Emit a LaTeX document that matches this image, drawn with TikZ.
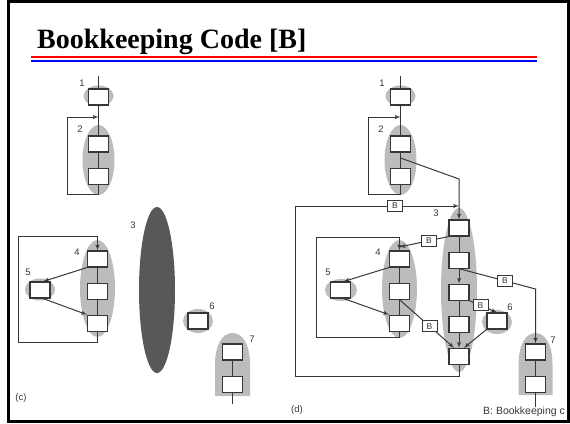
\documentclass[tikz,border=0pt]{standalone}
\usepackage{fontspec}
\setmainfont{Liberation Serif}
\setsansfont{Liberation Sans}
\usepackage{xcolor}
\definecolor{slidered}{RGB}{255,0,0}
\definecolor{slideblue}{RGB}{0,0,255}
\definecolor{lightregion}{RGB}{188,188,188}
\definecolor{darkregion}{RGB}{88,88,88}
\definecolor{inkgray}{RGB}{55,55,55}
\usetikzlibrary{arrows, positioning, shapes.geometric}

\begin{document}
\begin{tikzpicture}[x=1pt, y=-1pt, node distance=15pt,
        blockbox/.style={rectangle, draw=inkgray, fill=white, line width=1.1pt, minimum width=20pt, minimum height=16pt, inner sep=0pt},
        bbox/.style={rectangle, draw=inkgray, fill=white, line width=0.9pt, minimum width=15pt, minimum height=11pt, inner sep=0pt, font=\sffamily\fontsize{8.5}{8.5}\selectfont, text=inkgray},
        region/.style={ellipse, fill=lightregion, inner sep=0pt},
        num/.style={font=\sffamily\fontsize{9.5}{9.5}\selectfont, text=inkgray, inner sep=0pt},
        link/.style={draw=inkgray, line width=1pt},
        line/.style={draw=inkgray, -latex', line width=1pt}]

        \useasboundingbox (0,0) rectangle (570,423);
        \draw[line width=3pt] (8.5,1.5) rectangle (568.5,421.5);

        % Titulo
        \node[anchor=base west, inner sep=0pt, font=\bfseries\fontsize{28}{28}\selectfont] (title) at (37,48) {Bookkeeping Code [B]};
        \draw[slidered, line width=2.5pt] (31,57) -- (537,57);
        \draw[slideblue, line width=2.5pt] (31,61) -- (537,61);

        % Panel (c): regiones
        \node[region, minimum width=30pt, minimum height=21pt] (rc1) at (98.5,96) {};
        \node[region, minimum width=32pt, minimum height=70pt] (rc2) at (98.5,160) {};
        \node[region, fill=darkregion, minimum width=36pt, minimum height=166pt] (rc3) at (157,290) {};
        \node[region, minimum width=35pt, minimum height=97pt] (rc4) at (97.5,288.5) {};
        \node[region, minimum width=30pt, minimum height=22pt] (rc5) at (40,289.5) {};
        \node[region, minimum width=30pt, minimum height=24pt] (rc6) at (198,321) {};
        \fill[lightregion] (215,396) -- (215,365) .. controls (215,345) and (222,333) .. (232.5,333) .. controls (243,333) and (250,345) .. (250,365) -- (250,396) -- cycle;

        % Panel (c): bloques
        \node[blockbox] (c1) at (98.5,97) {};
        \node[blockbox] (c2a) at (98.5,144) {};
        \node[blockbox, below=of c2a] (c2b) {};
        \node[blockbox] (c4a) at (97.5,259) {};
        \node[blockbox, below=of c4a] (c4b) {};
        \node[blockbox, below=of c4b] (c4c) {};
        \node[blockbox] (c5) at (40,290) {};
        \node[blockbox] (c6) at (198,321) {};
        \node[blockbox] (c7a) at (232.5,352) {};
        \node[blockbox, below=of c7a] (c7b) {};

        \coordinate (ctop) at (98.5,76);
        \coordinate (c2in) at (98.5,117);
        \coordinate (c2out) at (98.5,194);
        \coordinate (c2corner) at (67,117);
        \coordinate (c4in) at (97.5,236);
        \coordinate (c4out) at (97.5,342);
        \coordinate (c4corner) at (18,236);
        \coordinate (c7end) at (232.5,404);

        \path[link] (ctop) -- (c1);
        \path[link] (c1) -- (c2a);
        \path[link] (c2a) -- (c2b);
        \path[link] (c2b) -- (c2out);
        \path[line] (c2out) -| (c2corner) -- (c2in);
        \path[link] (c4a) -- (c4b);
        \path[link] (c4b) -- (c4c);
        \path[line] (c4c) -- (c4out) -| (c4corner) -- (c4in) -- (c4a);
        \path[line] (c4a.south west) -- (c5.70);
        \path[line] (c5.-70) -- (c4c.north west);
        \path[link] (c7a) -- (c7b);
        \path[link] (c7b) -- (c7end);

        \node[num] (lc1) at (82,83) {1};
        \node[num] (lc2) at (80,129) {2};
        \node[num] (lc3) at (133,225) {3};
        \node[num] (lc4) at (77,252) {4};
        \node[num] (lc5) at (28,272) {5};
        \node[num] (lc6) at (212,306) {6};
        \node[num] (lc7) at (252,339) {7};
        \node[num] (capc) at (21,398) {(c)};

        % Panel (d): regiones
        \node[region, minimum width=30pt, minimum height=21pt] (rd1) at (400.5,96) {};
        \node[region, minimum width=32pt, minimum height=70pt] (rd2) at (400.5,160) {};
        \node[region, minimum width=36pt, minimum height=164pt] (rd3) at (459,290) {};
        \node[region, minimum width=35pt, minimum height=98pt] (rd4) at (399.5,289) {};
        \node[region, minimum width=32pt, minimum height=22pt] (rd5) at (341,290) {};
        \node[region, minimum width=30pt, minimum height=24pt] (rd6) at (497,322) {};
        \fill[lightregion] (518.5,395) -- (518.5,365) .. controls (518.5,345) and (525.5,333) .. (535.5,333) .. controls (545.5,333) and (552.5,345) .. (552.5,365) -- (552.5,395) -- cycle;

        % Panel (d): bloques
        \node[blockbox] (d1) at (400.5,97) {};
        \node[blockbox] (d2a) at (400.5,144) {};
        \node[blockbox, below=of d2a] (d2b) {};
        \node[blockbox] (d3a) at (459,228) {};
        \node[blockbox, below=of d3a] (d3b) {};
        \node[blockbox, below=of d3b] (d3c) {};
        \node[blockbox, below=of d3c] (d3d) {};
        \node[blockbox, below=of d3d] (d3e) {};
        \node[blockbox] (d4a) at (399.5,259) {};
        \node[blockbox, below=of d4a] (d4b) {};
        \node[blockbox, below=of d4b] (d4c) {};
        \node[blockbox] (d5) at (340.5,290) {};
        \node[blockbox] (d6) at (497,321) {};
        \node[blockbox] (d7a) at (535.5,352) {};
        \node[blockbox, below=of d7a] (d7b) {};

        \coordinate (dtop) at (400.5,76);
        \coordinate (d2in) at (400.5,117);
        \coordinate (d2out) at (400.5,194);
        \coordinate (d2corner) at (368,117);
        \coordinate (d2mid) at (400.5,158);
        \coordinate (d3turn) at (459,179);
        \coordinate (d3in) at (459,206);
        \coordinate (d3out) at (459,376);
        \coordinate (d3corner) at (295,206);
        \coordinate (d4in) at (399.5,237);
        \coordinate (d4out) at (399.5,337);
        \coordinate (d4corner) at (316,237);
        \coordinate (d4join) at (399.5,247);
        \coordinate (d7turn) at (535.5,289);
        \coordinate (d7end) at (535.5,407);

        \path[link] (dtop) -- (d1);
        \path[link] (d1) -- (d2a);
        \path[link] (d2a) -- (d2b);
        \path[link] (d2b) -- (d2out);
        \path[line] (d2out) -| (d2corner) -- (d2in);
        \path[line] (d2mid) -- (d3turn) -- (d3a);
        \path[link] (d3a) -- (d3b);
        \path[line] (d3b) -- (d3c);
        \path[link] (d3c) -- (d3d);
        \path[line] (d3d) -- (d3e);
        \path[line] (d3e) -- (d3out) -| (d3corner) -- node[bbox, pos=.61] (bd1) {B} (d3in);
        \path[link] (d4a) -- (d4b);
        \path[link] (d4b) -- (d4c);
        \path[line] (d4c) -- (d4out) -| (d4corner) -- (d4in) -- (d4a);
        \path[line] (d4a.south west) -- (d5.70);
        \path[line] (d5.-70) -- (d4c.north west);
        \path[line] (d3a.south west) -- node[bbox, pos=.4] (bd2) {B} (d4join);
        \path[line] (d4b.south) -- node[bbox, pos=.55] (bd3) {B} (d3e.120);
        \path[line] (d3b.south) -- node[bbox, pos=.6] (bd4) {B} (d7turn) -- (d7a);
        \path[line] (d3c.south east) -- node[bbox, pos=.4] (bd5) {B} (d6.north);
        \path[line] (d6.south west) -- (d3e.60);
        \path[link] (d7a) -- (d7b);
        \path[link] (d7b) -- (d7end);

        \node[num] (ld1) at (382,83) {1};
        \node[num] (ld2) at (381,129) {2};
        \node[num] (ld3) at (436,213) {3};
        \node[num] (ld4) at (378,252) {4};
        \node[num] (ld5) at (328,272) {5};
        \node[num] (ld6) at (510,307) {6};
        \node[num] (ld7) at (553,340) {7};
        \node[num] (capd) at (297,410) {(d)};
        \node[num, anchor=west, font=\sffamily\fontsize{10.5}{10.5}\selectfont] (legend) at (483,412) {B: Bookkeeping c};
    \end{tikzpicture}
\end{document}
